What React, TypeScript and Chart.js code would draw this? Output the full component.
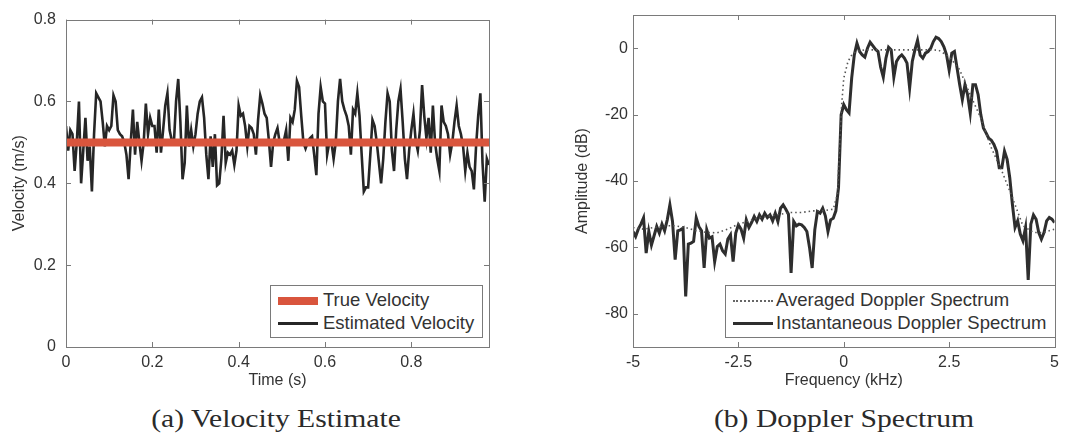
import React, { useEffect, useRef } from 'react';
import { Chart, registerables } from 'chart.js';

Chart.register(...registerables);

// ---------- Data: (a) Velocity Estimate ----------
const TIME_STEP = 0.005; // seconds between velocity estimates
const TIME_MAX = 0.98;
const TRUE_VELOCITY = 0.5;
const ESTIMATED_VELOCITY = [
  0.54, 0.48, 0.53, 0.52, 0.43, 0.50, 0.60, 0.40, 0.48, 0.56,
  0.455, 0.49, 0.38, 0.52, 0.62, 0.61, 0.60, 0.55, 0.49, 0.54,
  0.53, 0.54, 0.615, 0.60, 0.53, 0.52, 0.515, 0.50, 0.47, 0.41,
  0.50, 0.58, 0.47, 0.55, 0.50, 0.455, 0.50, 0.595, 0.52, 0.56,
  0.54, 0.54, 0.475, 0.58, 0.475, 0.53, 0.59, 0.62, 0.53, 0.505,
  0.50, 0.60, 0.655, 0.55, 0.41, 0.45, 0.59, 0.49, 0.53, 0.49,
  0.52, 0.57, 0.60, 0.61, 0.56, 0.47, 0.41, 0.515, 0.44, 0.52,
  0.395, 0.40, 0.46, 0.565, 0.45, 0.475, 0.47, 0.48, 0.445, 0.48,
  0.59, 0.565, 0.57, 0.54, 0.49, 0.54, 0.535, 0.52, 0.47, 0.555,
  0.615, 0.595, 0.57, 0.56, 0.505, 0.44, 0.50, 0.52, 0.535, 0.50,
  0.50, 0.505, 0.53, 0.455, 0.56, 0.55, 0.58, 0.65, 0.635, 0.565,
  0.50, 0.485, 0.50, 0.51, 0.515, 0.47, 0.42, 0.57, 0.635, 0.60,
  0.595, 0.47, 0.50, 0.50, 0.46, 0.50, 0.60, 0.655, 0.60, 0.58,
  0.565, 0.54, 0.47, 0.58, 0.57, 0.62, 0.565, 0.47, 0.38, 0.39,
  0.39, 0.47, 0.555, 0.54, 0.50, 0.45, 0.40, 0.46, 0.55, 0.62,
  0.60, 0.48, 0.43, 0.53, 0.60, 0.63, 0.55, 0.46, 0.41, 0.48,
  0.53, 0.57, 0.505, 0.48, 0.53, 0.64, 0.565, 0.51, 0.56, 0.475,
  0.59, 0.50, 0.46, 0.43, 0.59, 0.55, 0.54, 0.52, 0.47, 0.50,
  0.55, 0.59, 0.54, 0.52, 0.49, 0.43, 0.475, 0.44, 0.43, 0.385,
  0.49, 0.565, 0.62, 0.45, 0.355, 0.46, 0.445,
];
const VEL_X_TICKS = [0, 0.2, 0.4, 0.6, 0.8];
const VEL_Y_TICKS = [0, 0.2, 0.4, 0.6, 0.8];

// ---------- Data: (b) Doppler Spectrum ----------
const FREQ_STEP = 0.0625; // kHz
const FREQ_MIN = -5;
const INSTANT_DB = [
  -55.2, -56.7, -54.5, -53, -51.1, -61.7, -55.2, -59.3, -56.5, -53.7,
  -55.7, -53, -55, -51.7, -47.2, -52.2, -63.7, -55, -54.7, -54.2,
  -74.8, -59, -58.7, -58.2, -51.1, -53.7, -55, -66.2, -54.7, -57.2,
  -56.8, -64.3, -59.7, -59, -61, -62, -57.5, -56.2, -64.3, -55.7,
  -53.2, -54.5, -57.2, -51.7, -54, -52.5, -50.7, -52.2, -50.2, -51.5,
  -49.7, -51, -50.2, -52, -49.7, -52.2, -48.2, -47.2, -48.5, -50,
  -67.7, -52.2, -53.5, -53, -53.2, -54, -55.2, -60, -66.2, -54.7,
  -49.2, -49.7, -48.2, -50.5, -55.2, -51.7, -51.2, -49, -42, -20,
  -17, -18.5, -19.5, -9, -2, 1.5, -1, -2, -2.7, 0,
  1.8, 0.8, -0.3, -1, -5.7, -8.7, -3, 0.3, -0.5, -8.7,
  -4, -2.7, -2, -3, -4.5, -12, -4, -0.5, 2.4, -2.1,
  -3, -1.5, -1, 0, 2, 3.3, 2.9, 2, 0.4, -2,
  -6.6, -1.5, -1, -6, -11, -15.5, -11, -14, -19.5, -11,
  -11, -14, -20, -24, -25.5, -27.1, -27.7, -29, -31, -36,
  -36, -31, -33.5, -39, -47, -54, -52, -56, -58, -54,
  -69.8, -53, -50.2, -51.5, -55.5, -57.5, -55.5, -52, -51, -51.5,
  -52.5,
];
const AVG_FREQ = [
  -5, -4.75, -4.5, -4.25, -4, -3.75, -3.5, -3.25, -3, -2.75,
  -2.5, -2.25, -2, -1.75, -1.5, -1.25, -1, -0.75, -0.5, -0.25,
  -0.15, -0.1, -0.05, 0, 0.1, 0.2, 0.3, 0.5, 0.75, 1,
  1.25, 1.5, 1.75, 2, 2.25, 2.5, 2.75, 3, 3.25, 3.5,
  3.75, 4, 4.25, 4.5, 4.75, 5,
];
const AVG_DB = [
  -54, -54.5, -54, -53.5, -53.5, -54, -55, -55.5, -55.6, -54.5,
  -53, -52, -51, -50.5, -50, -49.5, -49.5, -49, -49, -48.5,
  -44, -30, -17, -9, -4, -1.8, -1, -0.5, -0.5, -0.5,
  -0.5, -0.5, -0.5, -0.5, -0.6, -2.5, -6.5, -14, -21, -30,
  -37, -45, -53.5, -55.5, -55.5, -54.5,
];
const DOP_X_TICKS = [-5, -2.5, 0, 2.5, 5];
const DOP_Y_TICKS = [-80, -60, -40, -20, 0];

// ---------- Styling ----------
const TEXT = '#333333';
const AXIS_GRAY = '#7a7a7a';
const RED = '#d9553d';
const SANS = '"Liberation Sans", Arial, sans-serif';

const boxPlugin = {
  id: 'matlabBox',
  afterDatasetsDraw(chart: any) {
    const { ctx, chartArea: a, scales } = chart;
    const L = 5;
    ctx.save();
    ctx.strokeStyle = AXIS_GRAY;
    ctx.lineWidth = 1;
    ctx.beginPath();
    scales.x.ticks.forEach((t: any) => {
      const px = Math.round(scales.x.getPixelForValue(t.value)) + 0.5;
      ctx.moveTo(px, a.bottom);
      ctx.lineTo(px, a.bottom - L);
      ctx.moveTo(px, a.top);
      ctx.lineTo(px, a.top + L);
    });
    scales.y.ticks.forEach((t: any) => {
      const py = Math.round(scales.y.getPixelForValue(t.value)) + 0.5;
      ctx.moveTo(a.left, py);
      ctx.lineTo(a.left + L, py);
      ctx.moveTo(a.right, py);
      ctx.lineTo(a.right - L, py);
    });
    ctx.stroke();
    ctx.strokeRect(Math.round(a.left) + 0.5, Math.round(a.top) + 0.5, Math.round(a.right - a.left), Math.round(a.bottom - a.top));
    ctx.restore();
  },
};

function makeScales(opts: {
  xMin: number; xMax: number; yMin: number; yMax: number;
  xTicks: number[]; yTicks: number[]; xTitle: string; yTitle: string;
  yWidth: number; xHeight: number; yPad: number;
}) {
  const tickFont = { family: SANS, size: 16 };
  return {
    x: {
      type: 'linear',
      min: opts.xMin,
      max: opts.xMax,
      afterBuildTicks: (s: any) => { s.ticks = opts.xTicks.map((v) => ({ value: v })); },
      afterFit: (s: any) => { s.height = opts.xHeight; },
      grid: { display: false, drawTicks: false },
      border: { display: false },
      ticks: { font: tickFont, color: TEXT, padding: 6, maxRotation: 0, autoSkip: false, callback: (v: any) => String(v) },
      title: { display: true, text: opts.xTitle, font: tickFont, color: TEXT, padding: { top: 0, bottom: 10 } },
    },
    y: {
      type: 'linear',
      min: opts.yMin,
      max: opts.yMax,
      afterBuildTicks: (s: any) => { s.ticks = opts.yTicks.map((v) => ({ value: v })); },
      afterFit: (s: any) => { s.width = opts.yWidth; },
      grid: { display: false, drawTicks: false },
      border: { display: false },
      ticks: { font: tickFont, color: TEXT, padding: opts.yPad, autoSkip: false, callback: (v: any) => String(v) },
      title: { display: true, text: opts.yTitle, font: tickFont, color: TEXT, padding: { top: 4, bottom: 0 } },
    },
  };
}

export default function App() {
  const velRef = useRef<HTMLCanvasElement>(null);
  const dopRef = useRef<HTMLCanvasElement>(null);

  useEffect(() => {
    document.body.style.margin = '0';
    const velPts = ESTIMATED_VELOCITY.map((v, i) => ({ x: i * TIME_STEP, y: v }));
    const truePts = [{ x: 0, y: TRUE_VELOCITY }, { x: TIME_MAX, y: TRUE_VELOCITY }];
    const instPts = INSTANT_DB.map((v, i) => ({ x: FREQ_MIN + i * FREQ_STEP, y: v }));
    const avgPts = AVG_DB.map((v, i) => ({ x: AVG_FREQ[i], y: v }));

    const c1 = new Chart(velRef.current!, {
      type: 'line',
      data: {
        datasets: [
          { label: 'True Velocity', data: truePts, borderColor: RED, borderWidth: 8, pointRadius: 0, borderCapStyle: 'butt' },
          { label: 'Estimated Velocity', data: velPts, borderColor: '#262626', borderWidth: 2.6, pointRadius: 0, tension: 0 },
        ],
      },
      options: {
        responsive: false,
        animation: false,
        layout: { padding: { left: 6, top: 15, right: 31, bottom: 0 } },
        plugins: { legend: { display: false }, tooltip: { enabled: false } },
        scales: makeScales({
          xMin: 0, xMax: TIME_MAX, yMin: 0, yMax: 0.8,
          xTicks: VEL_X_TICKS, yTicks: VEL_Y_TICKS,
          xTitle: 'Time (s)', yTitle: 'Velocity (m/s)',
          yWidth: 60, xHeight: 53, yPad: 10,
        }) as any,
      },
      plugins: [boxPlugin],
    } as any);

    const c2 = new Chart(dopRef.current!, {
      type: 'line',
      data: {
        datasets: [
          { label: 'Averaged Doppler Spectrum', data: avgPts, borderColor: '#555555', borderWidth: 1.6, borderDash: [1.5, 3], pointRadius: 0 },
          { label: 'Instantaneous Doppler Spectrum', data: instPts, borderColor: '#2e2e2e', borderWidth: 3, pointRadius: 0, tension: 0 },
        ],
      },
      options: {
        responsive: false,
        animation: false,
        layout: { padding: { left: 39, top: 15, right: 6, bottom: 0 } },
        plugins: { legend: { display: false }, tooltip: { enabled: false } },
        scales: makeScales({
          xMin: -5, xMax: 5, yMin: -90, yMax: 10,
          xTicks: DOP_X_TICKS, yTicks: DOP_Y_TICKS,
          xTitle: 'Frequency (kHz)', yTitle: 'Amplitude (dB)',
          yWidth: 64, xHeight: 53, yPad: 5,
        }) as any,
      },
      plugins: [boxPlugin],
    } as any);

    return () => { c1.destroy(); c2.destroy(); };
  }, []);

  const legendBox: React.CSSProperties = {
    position: 'absolute', top: 285, height: 53, boxSizing: 'border-box',
    border: `1px solid ${AXIS_GRAY}`, background: '#fff',
    fontFamily: SANS, fontSize: 18.5, color: TEXT,
  };
  const row = (top: number, left: number): React.CSSProperties => ({
    position: 'absolute', left, top: top - 11, height: 22, lineHeight: '22px', whiteSpace: 'nowrap',
  });
  const caption = (center: number): React.CSSProperties => ({
    position: 'absolute', top: 404, left: center - 200, width: 400, textAlign: 'center',
    fontFamily: '"Liberation Serif", "DejaVu Serif", serif', fontSize: 26, color: '#2a2a2a', whiteSpace: 'nowrap',
    transform: 'scaleX(1.14)', transformOrigin: 'center',
  });

  return (
    <div style={{ position: 'relative', width: 1065, height: 438, background: '#fff', overflow: 'hidden' }}>
      <canvas ref={velRef} width={520} height={400} style={{ position: 'absolute', left: 0, top: 0 }} />
      <canvas ref={dopRef} width={535} height={400} style={{ position: 'absolute', left: 530, top: 0 }} />

      <div style={{ ...legendBox, left: 270, width: 213 }}>
        <div style={{ position: 'absolute', left: 7, top: 11, width: 40, height: 8, background: RED }} />
        <div style={row(14, 52)}>True Velocity</div>
        <div style={{ position: 'absolute', left: 7, top: 36, width: 40, height: 2.5, background: '#262626' }} />
        <div style={row(37, 52)}>Estimated Velocity</div>
      </div>

      <div style={{ ...legendBox, left: 725, width: 331 }}>
        <div style={{ position: 'absolute', left: 7, top: 14, width: 40, height: 0, borderTop: '2px dotted #666' }} />
        <div style={row(14, 50)}>Averaged Doppler Spectrum</div>
        <div style={{ position: 'absolute', left: 7, top: 36, width: 40, height: 3, background: '#2e2e2e' }} />
        <div style={row(37, 50)}>Instantaneous Doppler Spectrum</div>
      </div>

      <div style={caption(276)}>(a) Velocity Estimate</div>
      <div style={caption(844)}>(b) Doppler Spectrum</div>
    </div>
  );
}
